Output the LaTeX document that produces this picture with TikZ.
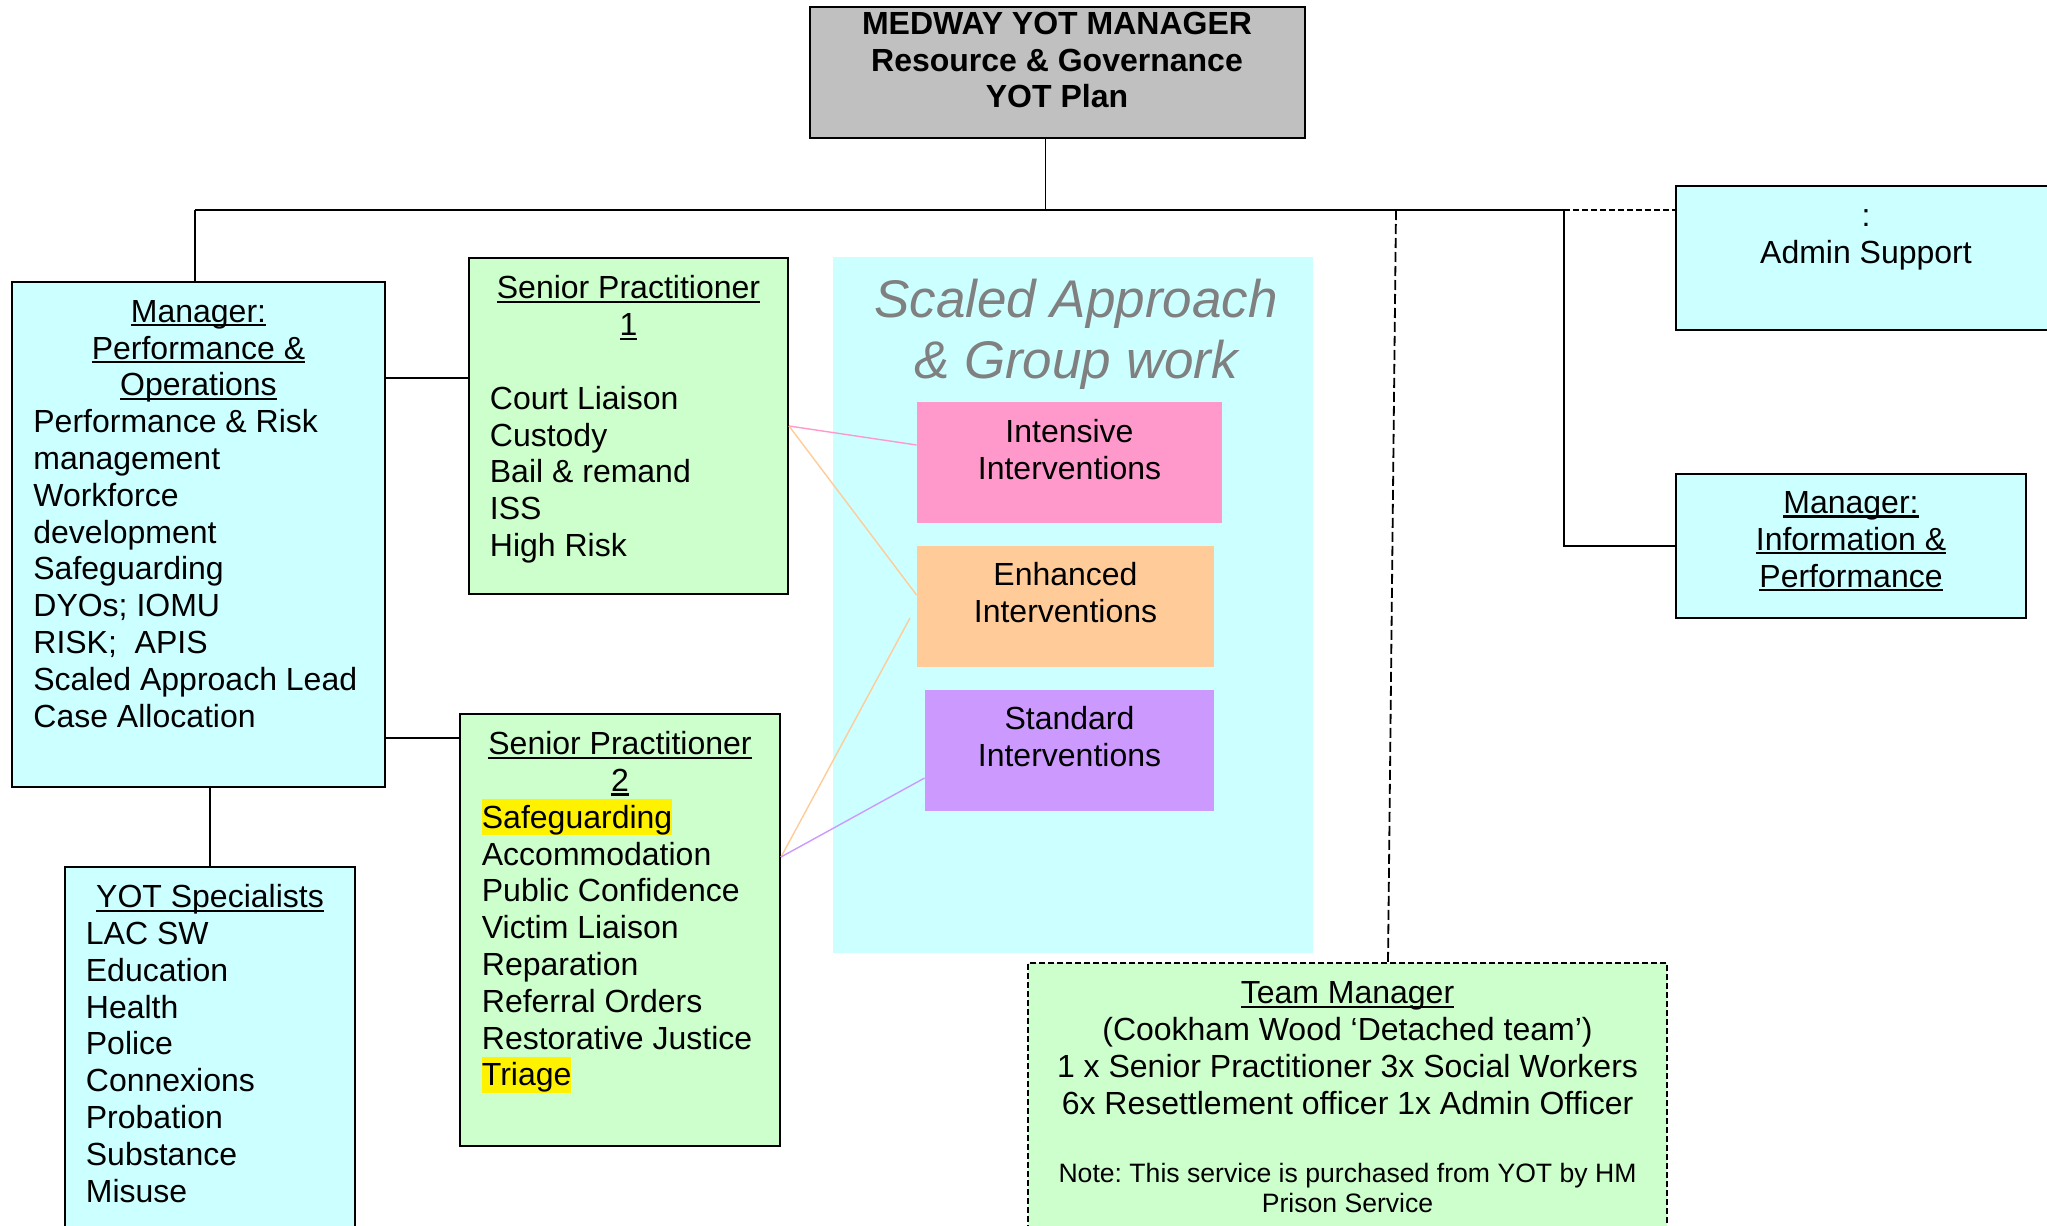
\documentclass[tikz,border=0pt]{standalone}
\usepackage{fontspec}
\setmainfont{Liberation Sans}
\usetikzlibrary{fit}
\frenchspacing
\definecolor{cyanbg}{HTML}{CCFFFF}
\definecolor{greenbg}{HTML}{CCFFCC}
\definecolor{pinkbg}{HTML}{FF99CC}
\definecolor{orangebg}{HTML}{FFCC99}
\definecolor{purplebg}{HTML}{CC99FF}
\definecolor{graybg}{HTML}{C0C0C0}
\definecolor{titlegray}{HTML}{808080}
\newcommand\fnorm{\fontsize{16}{18.4}\selectfont}
\newcommand\fbold{\fontsize{16}{18.2}\selectfont\bfseries}
\newcommand\ftitle{\fontsize{26.5}{30.5}\selectfont\itshape}
\newcommand\fnote{\fontsize{13.3}{15}\selectfont}
\newcommand\strutx{\vrule height 0.9em depth 0pt width 0pt}
\newcommand\uln[1]{\leavevmode\setbox0\hbox{#1}\rlap{\rule[-0.13em]{\wd0}{0.07em}}\box0}
\newcommand\hlt[1]{{\fboxsep=0pt\colorbox{yellow}{\vrule height 0.905em depth 0.212em width 0pt #1}}}
\tikzset{
  box/.style={draw=black, line width=1pt, inner sep=0pt},
  plain/.style={inner sep=0pt, draw=none},
  txt/.style={inner sep=0pt, font=\fnorm, align=left, anchor=north west},
  ctxt/.style={inner sep=0pt, font=\fnorm, align=center, anchor=north},
  conn/.style={line width=0.9pt, draw=black},
  longdash/.style={line width=0.9pt, dash pattern=on 5pt off 2pt},
  shortdash/.style={line width=0.9pt, dash pattern=on 3pt off 1.5pt},
  colconn/.style={line width=0.7pt}
}
\begin{document}
\begin{tikzpicture}[x=0.5pt,y=-0.5pt]
\useasboundingbox (0,0) rectangle (2047,1226);
\clip (0,0) rectangle (2047,1226);
% boxes
\node[box, fill=graybg, fit={(810,7) (1304.5,138)}] (top) {};
\node[plain, fill=cyanbg, fit={(833,257) (1313,953)}] (sa) {};
\node[plain, fill=pinkbg, fit={(917,402) (1222,523)}] (int) {};
\node[plain, fill=orangebg, fit={(917,546) (1214,667)}] (enh) {};
\node[plain, fill=purplebg, fit={(925,690) (1214,811)}] (std) {};
\node[box, fill=cyanbg, fit={(12,282) (385,787)}] (mgr) {};
\node[box, fill=greenbg, fit={(469,258) (788,594)}] (sp1) {};
\node[box, fill=greenbg, fit={(460,714) (780,1146)}] (sp2) {};
\node[box, fill=cyanbg, fit={(65,867) (355,1250)}] (spec) {};
\node[box, fill=cyanbg, fit={(1676,186) (2060,330)}] (admin) {};
\node[box, fill=cyanbg, fit={(1676,474) (2026,618)}] (info) {};
\node[box, shortdash, fill=greenbg, fit={(1028,963) (1667,1250)}] (team) {};
% connectors
\coordinate (hl) at (195,210);
\coordinate (hr) at (1564,210);
\coordinate (hd) at (1396,210);
\coordinate (tj) at (1045.5,210);
\coordinate (eo) at (910,618);
\draw[conn] (tj |- top.south) -- (tj);
\draw[conn] (hl) -- (hr);
\draw[conn] (hl) -- (hl |- mgr.north);
\draw[shortdash] (hr) -- (admin.west |- hr);
\draw[conn] (hr) |- (info.west);
\draw[longdash] (hd) -- ([xshift=20.25pt]team.north);
\draw[conn] (mgr.east |- 0,378) -- (sp1.west |- 0,378);
\draw[conn] (mgr.east |- 0,738) -- (sp2.west |- 0,738);
\draw[conn] (spec.north |- mgr.south) -- (spec.north);
\draw[colconn, draw=pinkbg] (sp1.east |- 0,426) -- (int.west |- 0,445);
\draw[colconn, draw=orangebg] (sp1.east |- 0,426) -- (enh.west |- 0,595);
\draw[colconn, draw=orangebg] (eo) -- (sp2.east |- 0,857);
\draw[colconn, draw=purplebg] (std.west |- 0,778) -- (sp2.east |- 0,857);
% texts
\node[ctxt, font=\fbold] (toptxt) at (1057,5.5) {\strutx MEDWAY YOT MANAGER\\Resource \& Governance\\YOT Plan};
\node[ctxt, font=\ftitle, text=titlegray] (satxt) at (1076,269.3) {\strutx Scaled Approach\\\& Group work};
\node[ctxt] (mgrhead) at (198.5,293) {\strutx\uln{Manager:}\\\uln{Performance \&}\\\uln{Operations}};
\node[txt] (mgritems) at (33,403.5) {\strutx Performance \& Risk\\management\\Workforce\\development\\Safeguarding\\DYOs; IOMU\\RISK;\ \ APIS\\Scaled Approach Lead\\Case Allocation};
\node[ctxt] (sp1head) at (628.5,269.7) {\strutx\uln{Senior Practitioner}\\\uln{1}};
\node[txt] (sp1items) at (489.5,380.1) {\strutx Court Liaison\\Custody\\Bail \& remand\\ISS\\High Risk};
\node[ctxt] (sp2head) at (620,725.5) {\strutx\uln{Senior Practitioner}\\\uln{2}};
\node[txt] (sp2items) at (481.5,799) {\strutx\hlt{Safeguarding}\\Accommodation\\Public Confidence\\Victim Liaison\\Reparation\\Referral Orders\\Restorative Justice\\\hlt{Triage}};
\node[ctxt] (spechead) at (210,878.5) {\strutx\uln{YOT Specialists}};
\node[txt] (specitems) at (85.5,915.3) {\strutx LAC SW\\Education\\Health\\Police\\Connexions\\Probation\\Substance\\Misuse};
\node[ctxt] (inttxt) at (1069.5,413) {\strutx Intensive\\Interventions};
\node[ctxt] (enhtxt) at (1065.5,556.7) {\strutx Enhanced\\Interventions};
\node[ctxt] (stdtxt) at (1069.5,700.7) {\strutx Standard\\Interventions};
\node[ctxt] (admintxt) at (1866,197.2) {\strutx :\\Admin Support};
\node[ctxt] (infotxt) at (1851,484.2) {\strutx\uln{Manager:}\\\uln{Information \&}\\\uln{Performance}};
\node[ctxt] (teamtxt) at (1347.5,974.7) {\strutx\uln{Team Manager}\\(Cookham Wood ‘Detached team’)\\1 x Senior Practitioner 3x Social Workers\\6x Resettlement officer 1x Admin Officer};
\node[ctxt, font=\fnote] (notetxt) at (1347.5,1157.8) {\strutx Note: This service is purchased from YOT by HM\\Prison Service};
\end{tikzpicture}
\end{document}
